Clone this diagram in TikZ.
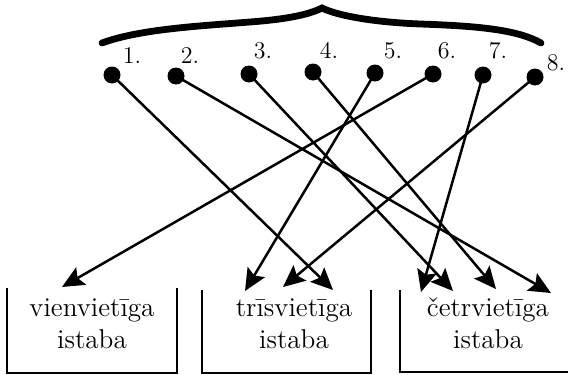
\documentclass[tikz,border=0pt]{standalone}
\usepackage{fontspec}
\usetikzlibrary{arrows.meta}
\begin{document}
\begin{tikzpicture}[x=0.5pt,y=-0.5pt,
  dot/.style={circle,fill=black,inner sep=0pt,minimum size=8.5pt},
  num/.style={anchor=base,inner sep=0pt,font=\fontsize{12}{14}\selectfont},
  room/.style={anchor=base,align=center,inner sep=0pt,font=\fontsize{13.6}{16}\selectfont},
  link/.style={line width=1.25pt,-{Stealth[length=11pt,width=10pt,inset=2pt]}},
  wall/.style={line width=1.3pt},
  brace/.style={line width=3.4pt,line cap=round,line join=miter}]
\useasboundingbox (0,0) rectangle (568,375);

% curly brace over the numbered points
\draw[brace] (102,43) .. controls (140,29) and (200,26) .. (250,22)
  .. controls (290,19) and (310,14) .. (322,8)
  .. controls (336,15) and (370,22) .. (420,24)
  .. controls (480,26) and (518,30) .. (541,43);

% numbered points
\foreach \i/\x/\y in {1/112/75,2/176/76,3/249/74,4/313/72,5/375/73,6/433/74,7/483/75,8/535/77}
  \node[dot] (d\i) at (\x,\y) {};
\foreach \i/\x/\y in {1/132/63,2/190/63,3/263/58,4/329/58,5/393/58,6/447/58,7/498/58,8/556/70}
  \node[num] (n\i) at (\x,\y) {\i.};

% rooms (open-topped boxes)
\draw[wall] (7,288) -- (7,373) -- (177,373) -- (177,288);
\draw[wall] (202,290) -- (202,373) -- (371,373) -- (371,290);
\draw[wall] (400,290) -- (400,372) -- (568,372);
\node[room] (r1) at (92,348) {vienvietīga\\istaba};
\node[room] (r2) at (294,348) {trīsvietīga\\istaba};
\node[room] (r3) at (488,348) {četrvietīga\\istaba};

% arrow ends
\coordinate (t1) at (333,290);
\coordinate (t2) at (551,293);
\coordinate (t3) at (453,291);
\coordinate (t4) at (496,289);
\coordinate (t5) at (245,291);
\coordinate (t6) at (62,287);
\coordinate (t7) at (421,292);
\coordinate (t8) at (283,287);

\foreach \i in {1,...,8}
  \draw[link] (d\i.center) -- (t\i);
\end{tikzpicture}
\end{document}
